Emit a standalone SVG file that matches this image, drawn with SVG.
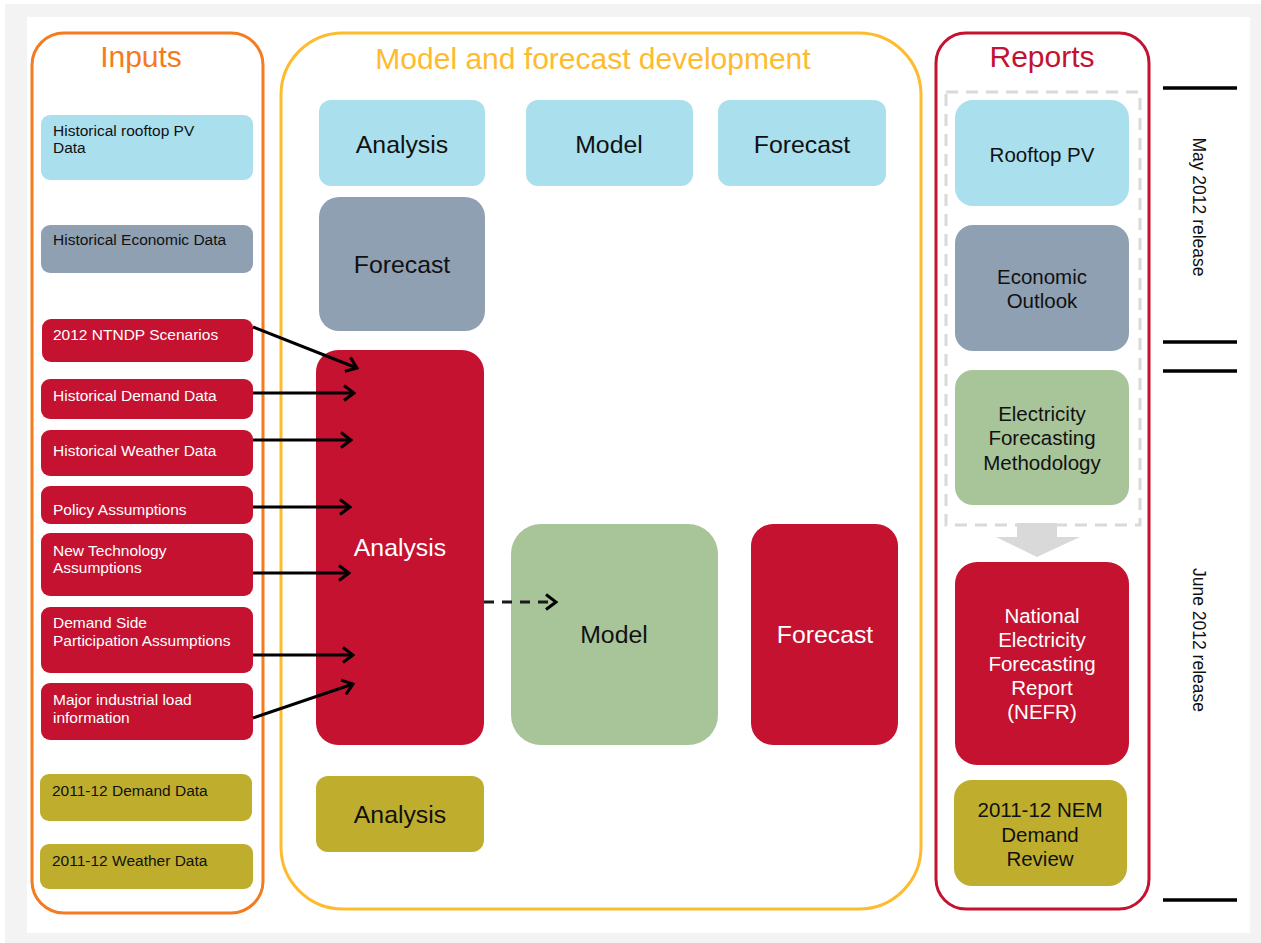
<svg xmlns="http://www.w3.org/2000/svg" width="1261" height="943" viewBox="0 0 1261 943">
<style>
text{font-family:"Liberation Sans",Arial,sans-serif}
.in{font-size:15.5px}
.big{font-size:24.8px;text-anchor:middle}
.rep{font-size:20.5px;text-anchor:middle}
.ttl{font-size:30px;text-anchor:middle}
.w{fill:#ffffff}.k{fill:#111111}
.blue{fill:#aadfed}.gray{fill:#8fa0b3}.red{fill:#c41230}.olive{fill:#bfae2e}.green{fill:#a8c499}
.arr{stroke:#000;stroke-width:3;fill:none}
.tick{stroke:#000;stroke-width:3.5}
.rot{font-size:17.5px;text-anchor:middle;fill:#111}
</style>
<defs>
<marker id="ah2" markerWidth="14" markerHeight="18" refX="12" refY="9" orient="auto" markerUnits="userSpaceOnUse" viewBox="0 0 14 18"><path d="M2,1.5 L12,9 L2,16.5" fill="none" stroke="#000" stroke-width="3"/></marker>
</defs>
<rect x="0" y="0" width="1261" height="943" fill="#ffffff"/>
<rect x="5" y="4" width="1256" height="939" fill="#f4f3f4"/>
<rect x="27" y="17" width="1223" height="916" fill="#ffffff"/>

<g id="inputs">
<rect x="32" y="33" width="231" height="880" rx="32" fill="none" stroke="#f47b20" stroke-width="3"/>
<text class="ttl" x="141" y="67" fill="#f47b20">Inputs</text>
</g>
<g id="model-dev">
<rect x="281" y="33" width="640" height="876" rx="62" fill="none" stroke="#fdbb2d" stroke-width="3"/>
<text class="ttl" x="593" y="69" fill="#fdbb2d">Model and forecast development</text>
</g>
<g id="reports">
<rect x="936" y="33" width="213" height="876" rx="30" fill="none" stroke="#c41230" stroke-width="3"/>
<text class="ttl" x="1042" y="67" fill="#c41230">Reports</text>
<rect x="946" y="92" width="194" height="433" fill="none" stroke="#d9d9d9" stroke-width="3" stroke-dasharray="12,8"/>
</g>

<g id="in-pv"><rect class="blue" x="41" y="115" width="212" height="65" rx="9"/><text class="in k" x="53" y="136">Historical rooftop PV</text><text class="in k" x="53" y="153">Data</text></g>
<g id="in-econ"><rect class="gray" x="41" y="225" width="212" height="48" rx="9"/><text class="in k" x="53" y="245">Historical Economic Data</text></g>
<g id="in-ntndp"><rect class="red" x="42" y="319" width="211" height="43" rx="9"/><text class="in w" x="53" y="340">2012 NTNDP Scenarios</text></g>
<g id="in-demand"><rect class="red" x="41" y="379" width="212" height="40" rx="9"/><text class="in w" x="53" y="401">Historical Demand Data</text></g>
<g id="in-weather"><rect class="red" x="41" y="430" width="212" height="46" rx="9"/><text class="in w" x="53" y="456">Historical Weather Data</text></g>
<g id="in-policy"><rect class="red" x="41" y="486" width="212" height="38" rx="9"/><text class="in w" x="53" y="515">Policy Assumptions</text></g>
<g id="in-tech"><rect class="red" x="41" y="533" width="212" height="63" rx="9"/><text class="in w" x="53" y="556">New Technology</text><text class="in w" x="53" y="573">Assumptions</text></g>
<g id="in-dsp"><rect class="red" x="41" y="607" width="212" height="66" rx="9"/><text class="in w" x="53" y="628">Demand Side</text><text class="in w" x="53" y="646">Participation Assumptions</text></g>
<g id="in-major"><rect class="red" x="41" y="683" width="212" height="57" rx="9"/><text class="in w" x="53" y="705">Major industrial load</text><text class="in w" x="53" y="723">information</text></g>
<g id="in-d1112"><rect class="olive" x="40" y="774" width="212" height="47" rx="9"/><text class="in k" x="52" y="796">2011-12 Demand Data</text></g>
<g id="in-w1112"><rect class="olive" x="40" y="844" width="213" height="45" rx="9"/><text class="in k" x="52" y="866">2011-12 Weather Data</text></g>

<g id="m-analysis-blue"><rect class="blue" x="319" y="100" width="166" height="86" rx="12"/><text class="big k" x="402" y="153">Analysis</text></g>
<g id="m-model-blue"><rect class="blue" x="526" y="100" width="167" height="86" rx="12"/><text class="big k" x="609" y="153">Model</text></g>
<g id="m-forecast-blue"><rect class="blue" x="718" y="100" width="168" height="86" rx="12"/><text class="big k" x="802" y="153">Forecast</text></g>
<g id="m-forecast-gray"><rect class="gray" x="319" y="197" width="166" height="134" rx="20"/><text class="big k" x="402" y="273">Forecast</text></g>
<g id="m-analysis-red"><rect class="red" x="316" y="350" width="168" height="395" rx="22"/><text class="big w" x="400" y="556">Analysis</text></g>
<g id="m-model-green"><rect class="green" x="511" y="524" width="207" height="221" rx="30"/><text class="big k" x="614" y="643">Model</text></g>
<g id="m-forecast-red"><rect class="red" x="751" y="524" width="147" height="221" rx="22"/><text class="big w" x="825" y="643">Forecast</text></g>
<g id="m-analysis-olive"><rect class="olive" x="316" y="776" width="168" height="76" rx="12"/><text class="big k" x="400" y="823">Analysis</text></g>

<g id="r-pv"><rect class="blue" x="955" y="100" width="174" height="106" rx="18"/><text class="rep k" x="1042" y="162">Rooftop PV</text></g>
<g id="r-econ"><rect class="gray" x="955" y="225" width="174" height="126" rx="18"/><text class="rep k" x="1042" y="284">Economic</text><text class="rep k" x="1042" y="308">Outlook</text></g>
<g id="r-efm"><rect class="green" x="955" y="370" width="174" height="135" rx="18"/><text class="rep k" x="1042" y="421">Electricity</text><text class="rep k" x="1042" y="445">Forecasting</text><text class="rep k" x="1042" y="470">Methodology</text></g>
<g id="r-arrow"><path d="M1017,523 H1057 V537 H1080 L1037,557 L996,537 H1017 Z" fill="#d9d9d9"/></g>
<g id="r-nefr"><rect class="red" x="955" y="562" width="174" height="203" rx="22"/><text class="rep w" x="1042" y="623">National</text><text class="rep w" x="1042" y="647">Electricity</text><text class="rep w" x="1042" y="671">Forecasting</text><text class="rep w" x="1042" y="695">Report</text><text class="rep w" x="1042" y="719">(NEFR)</text></g>
<g id="r-nem"><rect class="olive" x="954" y="780" width="173" height="106" rx="18"/><text class="rep k" x="1040" y="817">2011-12 NEM</text><text class="rep k" x="1040" y="842">Demand</text><text class="rep k" x="1040" y="866">Review</text></g>

<g id="timeline">
<line class="tick" x1="1163" y1="88" x2="1237" y2="88"/>
<line class="tick" x1="1163" y1="342" x2="1237" y2="342"/>
<line class="tick" x1="1163" y1="371" x2="1237" y2="371"/>
<line class="tick" x1="1163" y1="900" x2="1237" y2="900"/>
<text class="rot" x="0" y="0" transform="translate(1193,207) rotate(90)">May 2012 release</text>
<text class="rot" x="0" y="0" transform="translate(1193,640) rotate(90)">June 2012 release</text>
</g>

<g id="connectors">
<line class="arr" x1="253" y1="327" x2="357" y2="368" marker-end="url(#ah2)"/>
<line class="arr" x1="253" y1="393" x2="354" y2="393" marker-end="url(#ah2)"/>
<line class="arr" x1="253" y1="440" x2="351" y2="440" marker-end="url(#ah2)"/>
<line class="arr" x1="253" y1="507" x2="350" y2="507" marker-end="url(#ah2)"/>
<line class="arr" x1="253" y1="573" x2="349" y2="573" marker-end="url(#ah2)"/>
<line class="arr" x1="253" y1="655" x2="353" y2="655" marker-end="url(#ah2)"/>
<line class="arr" x1="253" y1="718" x2="353" y2="684" marker-end="url(#ah2)"/>
<line x1="484" y1="602" x2="556" y2="602" stroke="#1a1a1a" stroke-width="3" stroke-dasharray="10,8" fill="none" marker-end="url(#ah2)"/>
</g>
</svg>
